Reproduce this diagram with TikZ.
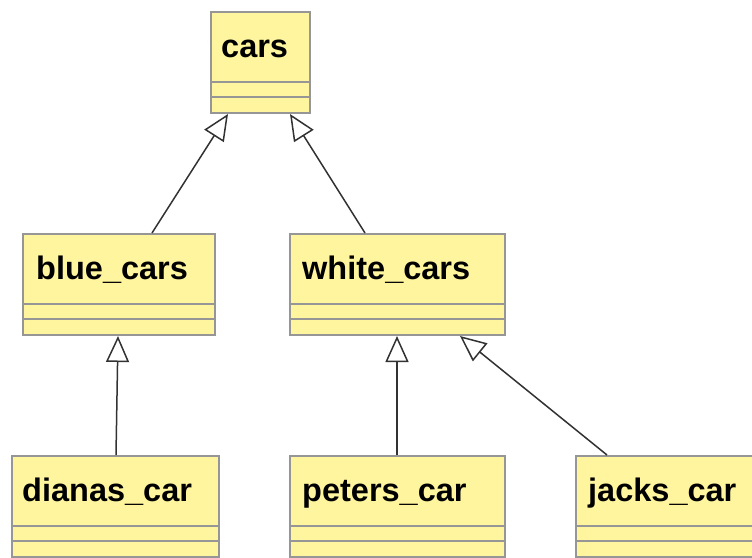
\documentclass[tikz,border=0pt]{standalone}
\usepackage{fontspec}
\setmainfont{Liberation Sans}
\usetikzlibrary{arrows.meta,calc}
\definecolor{classfill}{RGB}{255,245,158}
\definecolor{classline}{RGB}{150,150,150}
\definecolor{linkline}{RGB}{50,50,50}
\tikzset{
  classbox/.style={draw=classline, fill=classfill, line width=2pt,
    rectangle, anchor=north west, minimum height=101pt, inner sep=0pt},
  classname/.style={anchor=base west, inner sep=0pt,
    font=\fontsize{32.5}{38}\selectfont\bfseries},
  divider/.style={draw=classline, line width=2pt},
  inherit/.style={draw=linkline, line width=1.5pt,
    -{Triangle[length=26pt,width=23pt,fill=white]}},
}
\newcommand{\umlclass}[4]{%
  % #1 name, #2 x, #3 y, #4 width
  \node[classbox, minimum width=#4pt] (#1) at (#2pt,-#3pt) {};
  \draw[divider] ($(#1.north west)+(0,-71pt)$) -- ($(#1.north east)+(0,-71pt)$);
  \draw[divider] ($(#1.north west)+(0,-86pt)$) -- ($(#1.north east)+(0,-86pt)$);
}
\begin{document}
\begin{tikzpicture}[x=1pt,y=1pt]
  \useasboundingbox (0,0) rectangle (752,-557);
  \clip (0,0) rectangle (752,-557);

  % class boxes
  \umlclass{cars}{210}{11}{99}
  \umlclass{blue}{22}{233}{192}
  \umlclass{white}{289}{233}{215}
  \umlclass{diana}{11}{455}{207}
  \umlclass{peter}{289}{455}{215}
  \umlclass{jack}{575}{455}{200}

  % class names
  \node[classname] (carsT)  at ($(cars.north west)+(11,-46)$)  {cars};
  \node[classname] (blueT)  at ($(blue.north west)+(14,-46)$)  {blue\_cars};
  \node[classname] (whiteT) at ($(white.north west)+(13,-46)$) {white\_cars};
  \node[classname] (dianaT) at ($(diana.north west)+(11,-46)$) {dianas\_car};
  \node[classname] (peterT) at ($(peter.north west)+(13,-46)$) {peters\_car};
  \node[classname] (jackT)  at ($(jack.north west)+(13,-46)$)  {jacks\_car};

  % attachment points
  \coordinate (carsL)  at ($(cars.south west)+(18,0)$);
  \coordinate (carsR)  at ($(cars.south west)+(80,0)$);
  \coordinate (blueTop) at ($(blue.north west)+(130,0)$);
  \coordinate (blueBot) at ($(blue.south west)+(96,0)$);
  \coordinate (whiteTop) at ($(white.north west)+(76,0)$);
  \coordinate (whiteBotL) at ($(white.south west)+(108,0)$);
  \coordinate (whiteBotR) at ($(white.south west)+(171,0)$);
  \coordinate (dianaTop) at ($(diana.north west)+(105,0)$);
  \coordinate (peterTop) at ($(peter.north west)+(108,0)$);
  \coordinate (jackTop)  at ($(jack.north west)+(32,0)$);

  % generalisation links
  \draw[inherit] (blueTop) -- (carsL);
  \draw[inherit] (whiteTop) -- (carsR);
  \draw[inherit] (dianaTop) -- (blueBot);
  \draw[inherit] (peterTop) -- (whiteBotL);
  \draw[inherit] (jackTop) -- (whiteBotR);
\end{tikzpicture}
\end{document}
